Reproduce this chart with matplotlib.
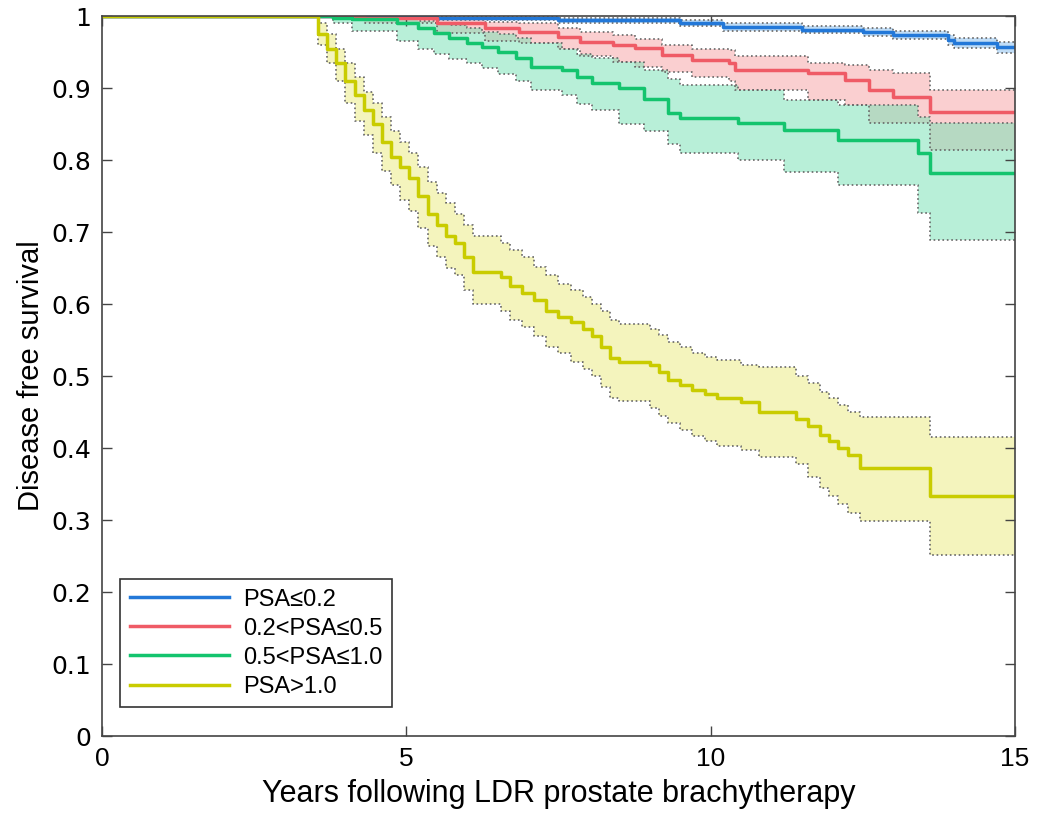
import matplotlib
matplotlib.use("Agg")
import matplotlib.pyplot as plt
import numpy as np

# Kaplan-Meier style step data (years, survival)
blue_t = [0, 3.9, 5.5, 7.5, 9.5, 10.2, 11.5, 12.5, 13.0, 13.9, 14.0, 14.7]
blue_s = [1.0, 0.999, 0.997, 0.994, 0.99, 0.985, 0.981, 0.978, 0.974, 0.967, 0.963, 0.957]
blue_lo = [1.0, 0.997, 0.994, 0.991, 0.986, 0.98, 0.976, 0.973, 0.968, 0.96, 0.956, 0.949]
blue_hi = [1.0, 1.0, 0.999, 0.997, 0.994, 0.99, 0.986, 0.984, 0.98, 0.974, 0.97, 0.964]

red_t = [0, 4.3, 5.5, 6.3, 6.85, 7.5, 7.85, 8.4, 8.75, 9.2, 9.7, 10.3, 10.4, 11.6, 12.2, 12.6, 13.0, 13.6]
red_s = [1.0, 0.998, 0.99, 0.983, 0.978, 0.971, 0.964, 0.96, 0.956, 0.946, 0.939, 0.935, 0.925, 0.921, 0.911, 0.897, 0.888, 0.867]
red_lo = [1.0, 0.99, 0.976, 0.966, 0.962, 0.955, 0.945, 0.936, 0.93, 0.922, 0.915, 0.91, 0.897, 0.883, 0.876, 0.851, 0.851, 0.814]
red_hi = [1.0, 1.0, 0.997, 0.992, 0.99, 0.983, 0.978, 0.974, 0.968, 0.96, 0.955, 0.953, 0.945, 0.935, 0.932, 0.925, 0.921, 0.898]

green_t = [0, 3.8, 4.1, 4.85, 5.2, 5.45, 5.7, 6.0, 6.25, 6.5, 6.8, 7.05, 7.55, 7.8, 8.05, 8.5,
           8.9, 9.3, 9.5, 10.45, 11.2, 12.1, 13.4, 13.6]
green_s = [1.0, 0.998, 0.996, 0.99, 0.984, 0.976, 0.97, 0.963, 0.957, 0.95, 0.942, 0.93, 0.925, 0.915,
           0.907, 0.9, 0.885, 0.866, 0.858, 0.851, 0.842, 0.828, 0.81, 0.782]
green_lo = [1.0, 0.99, 0.98, 0.965, 0.955, 0.948, 0.94, 0.935, 0.928, 0.92, 0.91, 0.897, 0.89, 0.878,
            0.87, 0.85, 0.84, 0.822, 0.81, 0.8, 0.783, 0.765, 0.726, 0.689]
green_hi = [1.0, 1.0, 1.0, 0.998, 0.993, 0.99, 0.988, 0.983, 0.978, 0.975, 0.97, 0.963, 0.955, 0.948,
            0.942, 0.936, 0.925, 0.913, 0.905, 0.897, 0.883, 0.876, 0.86, 0.851]

yellow_t = [0, 3.55, 3.7, 3.85, 4.0, 4.15, 4.3, 4.45, 4.6, 4.75, 4.9, 5.05, 5.2, 5.35, 5.5, 5.65,
            5.8, 5.95, 6.1, 6.55, 6.7, 6.9, 7.1, 7.3, 7.5, 7.7, 7.9, 8.05, 8.2, 8.35, 8.5, 9.0,
            9.15, 9.3, 9.5, 9.7, 9.9, 10.1, 10.5, 10.8, 11.4, 11.6, 11.8, 11.95, 12.1, 12.25,
            12.45, 13.6]
yellow_s = [1.0, 0.975, 0.955, 0.935, 0.91, 0.89, 0.87, 0.85, 0.825, 0.805, 0.79, 0.775, 0.75, 0.725,
            0.71, 0.695, 0.685, 0.665, 0.645, 0.638, 0.625, 0.615, 0.605, 0.59, 0.582, 0.575, 0.565,
            0.555, 0.54, 0.525, 0.52, 0.515, 0.505, 0.495, 0.487, 0.48, 0.475, 0.47, 0.464, 0.45,
            0.44, 0.43, 0.418, 0.41, 0.4, 0.39, 0.372, 0.333]
yellow_lo = [1.0, 0.96, 0.935, 0.91, 0.88, 0.855, 0.835, 0.81, 0.785, 0.765, 0.745, 0.73, 0.705, 0.68,
             0.665, 0.65, 0.64, 0.62, 0.6, 0.59, 0.578, 0.568, 0.555, 0.54, 0.532, 0.52, 0.51, 0.5,
             0.485, 0.47, 0.465, 0.455, 0.445, 0.435, 0.425, 0.417, 0.41, 0.403, 0.397, 0.387,
             0.378, 0.36, 0.345, 0.333, 0.322, 0.31, 0.298, 0.252]
yellow_hi = [1.0, 0.99, 0.975, 0.955, 0.935, 0.915, 0.895, 0.88, 0.86, 0.84, 0.825, 0.81, 0.79, 0.77,
             0.755, 0.74, 0.725, 0.71, 0.695, 0.685, 0.675, 0.665, 0.652, 0.64, 0.628, 0.62, 0.61,
             0.6, 0.59, 0.578, 0.573, 0.565, 0.557, 0.548, 0.54, 0.532, 0.527, 0.523, 0.515, 0.512,
             0.5, 0.49, 0.478, 0.47, 0.46, 0.45, 0.443, 0.415]

labels = ['PSA\u22640.2', '0.2<PSA\u22640.5', '0.5<PSA\u22641.0', 'PSA>1.0']
line_colors = ['#2378d8', '#ef5b66', '#14c46e', '#c9cc00']
fill_colors = ['#8fc1f0', '#f7a9aa', '#7fe3b8', '#ebeb88']
t_end = 15

groups = [
    (blue_t, blue_s, blue_lo, blue_hi),
    (red_t, red_s, red_lo, red_hi),
    (green_t, green_s, green_lo, green_hi),
    (yellow_t, yellow_s, yellow_lo, yellow_hi),
]

sans = ['Liberation Sans', 'DejaVu Sans']

fig = plt.figure(figsize=(10.49, 8.27), dpi=100)
ax = fig.add_axes([0.0972, 0.110, 0.8704, 0.8705])

def ext(t, v):
    return np.append(t, t_end), np.append(v, v[-1])

# shaded confidence bands
for (t, s, lo, hi), fc in zip(groups, fill_colors):
    tt, ll = ext(t, lo)
    _, hh = ext(t, hi)
    ax.fill_between(tt, ll, hh, step='post', color=fc, alpha=0.55, linewidth=0)

# dotted band edges
for (t, s, lo, hi) in groups:
    tt, ll = ext(t, lo)
    _, hh = ext(t, hi)
    ax.step(tt, ll, where='post', color='#666666', ls=':', lw=1.2)
    ax.step(tt, hh, where='post', color='#666666', ls=':', lw=1.2)

# survival curves
for (t, s, lo, hi), lc, lab in zip(groups, line_colors, labels):
    tt, ss = ext(t, s)
    ax.step(tt, ss, where='post', color=lc, lw=2.5, label=lab)

ax.set_xlim(0, 15)
ax.set_ylim(0, 1)
ax.set_xticks([0, 5, 10, 15])
ax.set_xticklabels(['0', '5', '10', '15'], family=sans, fontsize=19)
yt = np.arange(0, 1.01, 0.1)
ax.set_yticks(yt)
ax.set_yticklabels(['0', '0.1', '0.2', '0.3', '0.4', '0.5', '0.6', '0.7', '0.8', '0.9', '1'],
                   family='DejaVu Sans', fontsize=18)
ax.tick_params(direction='in', top=True, right=True, length=7, width=1, color='#444444', pad=8)
for sp in ax.spines.values():
    sp.set_color('#444444')
    sp.set_linewidth(1.2)

ax.set_xlabel('Years following LDR prostate brachytherapy', family=sans, fontsize=22, labelpad=6)
ax.set_ylabel('Disease free survival', family=sans, fontsize=21, labelpad=4)

leg = ax.legend(loc='lower left', bbox_to_anchor=(0.02, 0.04), borderaxespad=0,
                prop={'family': sans, 'size': 17}, handlelength=4.2, handletextpad=0.6,
                labelspacing=0.3, fancybox=False, framealpha=1, edgecolor='#333333',
                borderpad=0.4)
leg.get_frame().set_linewidth(1.2)

fig.savefig('out.png', dpi=100)
